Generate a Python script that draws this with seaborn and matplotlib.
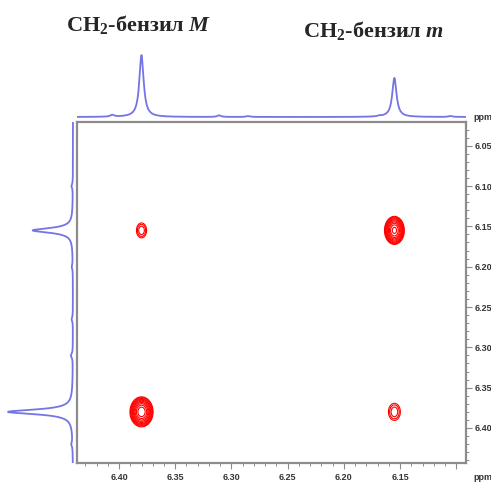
import numpy as np
import pandas as pd
import matplotlib
matplotlib.use("Agg")
import matplotlib.pyplot as plt
import seaborn as sns
from matplotlib.ticker import MultipleLocator, FormatStrFormatter, FuncFormatter

# ---- 1D projection along F2 (top trace): shift, relative height, half-width ----
f2_shift = [6.380, 6.155, 6.406, 6.311, 6.285, 6.168, 6.105]
f2_height = [1.00, 0.63, 0.03, 0.025, 0.015, 0.012, 0.015]
f2_hwhm = [0.0023, 0.0023, 0.002, 0.002, 0.002, 0.002, 0.002]

# ---- 1D projection along F1 (left trace) ----
f1_shift = [6.380, 6.155, 6.100, 6.265, 6.310, 6.420, 6.200]
f1_height = [1.00, 0.62, 0.02, 0.02, 0.03, 0.02, 0.015]
f1_hwhm = [0.0035, 0.0035, 0.003, 0.003, 0.003, 0.003, 0.003]

# ---- 2D peaks: diagonal (M, m) and exchange cross peaks ----
peak_f2 = [6.380, 6.155, 6.380, 6.155]
peak_f1 = [6.380, 6.155, 6.155, 6.380]
peak_amp = [1.00, 0.85, 0.12, 0.12]
peak_sx = [0.0042, 0.0037, 0.0034, 0.0040]
peak_sy = [0.0076, 0.0073, 0.0070, 0.0080]

titles = ["CH$_2$-бензил $M$", "CH$_2$-бензил $m$"]

x_range = (6.4374, 6.0913)
y_range = (6.4434, 6.0206)
x_label_min = 6.12  # the 6.10 position carries the "ppm" unit instead of a number

blue = "#7474e6"
grey = "#8c8c8c"
label_col = "#353535"

sns.set_theme(style="white")
plt.rcParams["font.family"] = ["Liberation Sans", "DejaVu Sans"]
plt.rcParams["mathtext.fontset"] = "custom"
plt.rcParams["mathtext.rm"] = "Liberation Serif:bold"
plt.rcParams["mathtext.it"] = "Liberation Serif:italic:bold"
plt.rcParams["mathtext.bf"] = "Liberation Serif:bold"

W, H = 491, 482
fig = plt.figure(figsize=(W / 100, H / 100), dpi=100, facecolor="white")


def px_box(x0, y0, x1, y1):
    return [x0 / W, 1 - y1 / H, (x1 - x0) / W, (y1 - y0) / H]


ax = fig.add_axes(px_box(77, 122, 466, 463))
ax_top = fig.add_axes(px_box(77, 48, 466, 122), sharex=ax)
ax_left = fig.add_axes(px_box(0, 122, 77, 463), sharey=ax)


def lorentz_sum(grid, shifts, heights, hwhm):
    out = np.zeros_like(grid)
    for c, h, g in zip(shifts, heights, hwhm):
        out += h * g**2 / ((grid - c) ** 2 + g**2)
    return out


# ---- contour map ----
gx = np.linspace(6.09, 6.44, 700)
gy = np.linspace(6.02, 6.445, 700)
GX, GY = np.meshgrid(gx, gy)
Z = np.zeros_like(GX)
for cx, cy, a, sx, sy in zip(peak_f2, peak_f1, peak_amp, peak_sx, peak_sy):
    Z += a * np.exp(-((GX - cx) ** 2 / (2 * sx**2) + (GY - cy) ** 2 / (2 * sy**2)))
levels = 0.05 * 1.35 ** np.arange(10)
ax.contour(GX, GY, Z, levels=levels, colors="#ff0000", linewidths=0.8)

ax.set_xlim(*x_range)
ax.set_ylim(*y_range)
ax.yaxis.tick_right()
ax.xaxis.set_major_locator(MultipleLocator(0.05))
ax.xaxis.set_minor_locator(MultipleLocator(0.01))
ax.yaxis.set_major_locator(MultipleLocator(0.05))
ax.yaxis.set_minor_locator(MultipleLocator(0.01))
ax.xaxis.set_major_formatter(FuncFormatter(lambda v, p: f"{v:.2f}" if v > x_label_min else ""))
ax.yaxis.set_major_formatter(FormatStrFormatter("%.2f"))
ax.tick_params(which="major", direction="out", length=4, width=0.8, color=grey,
               labelsize=6.5, labelcolor=label_col, pad=2.5,
               bottom=True, right=True, left=False, top=False)
ax.tick_params(which="minor", direction="out", length=2, width=0.7, color=grey,
               bottom=True, right=True, left=False, top=False)
ax.tick_params(axis="x", which="major", pad=3)
for s in ax.spines.values():
    s.set_color(grey)
    s.set_linewidth(1.6)
ax.set_xlabel("")
ax.set_ylabel("")

# ---- top projection ----
xs = np.linspace(6.0913, 6.4374, 1500)
top_df = pd.DataFrame({"ppm": xs, "I": lorentz_sum(xs, f2_shift, f2_height, f2_hwhm)})
sns.lineplot(data=top_df, x="ppm", y="I", ax=ax_top, color=blue, lw=1.3,
             estimator=None, sort=False)
ax_top.set_ylim(-5 / 62, (117 - 48) / 62)
ax_top.axis("off")

# ---- left projection ----
ys = np.linspace(6.0206, 6.4434, 1500)
left_df = pd.DataFrame({"ppm": ys, "I": lorentz_sum(ys, f1_shift, f1_height, f1_hwhm)})
sns.lineplot(data=left_df, x="I", y="ppm", ax=ax_left, color=blue, lw=1.3,
             estimator=None, sort=False, orient="y")
ax_left.set_xlim(73 / 65, -4 / 65)
ax_left.axis("off")
ax.set_ylim(*y_range)
for lab in ax.get_xticklabels() + ax.get_yticklabels():
    lab.set_fontweight("bold")

# ---- labels ----
fig.text(473 / W, 1 - 117 / H, "ppm", fontsize=6.5, fontweight="bold", color=label_col,
         ha="left", va="center")
fig.text(473 / W, 1 - 477 / H, "ppm", fontsize=6.5, fontweight="bold", color=label_col,
         ha="left", va="center")
fig.text(139 / W, 1 - 24 / H, titles[0], fontsize=16, fontweight="bold",
         family="Liberation Serif", ha="center", va="center")
fig.text(374 / W, 1 - 30 / H, titles[1], fontsize=16, fontweight="bold",
         family="Liberation Serif", ha="center", va="center")

fig.savefig("out.png", dpi=100, facecolor="white")
